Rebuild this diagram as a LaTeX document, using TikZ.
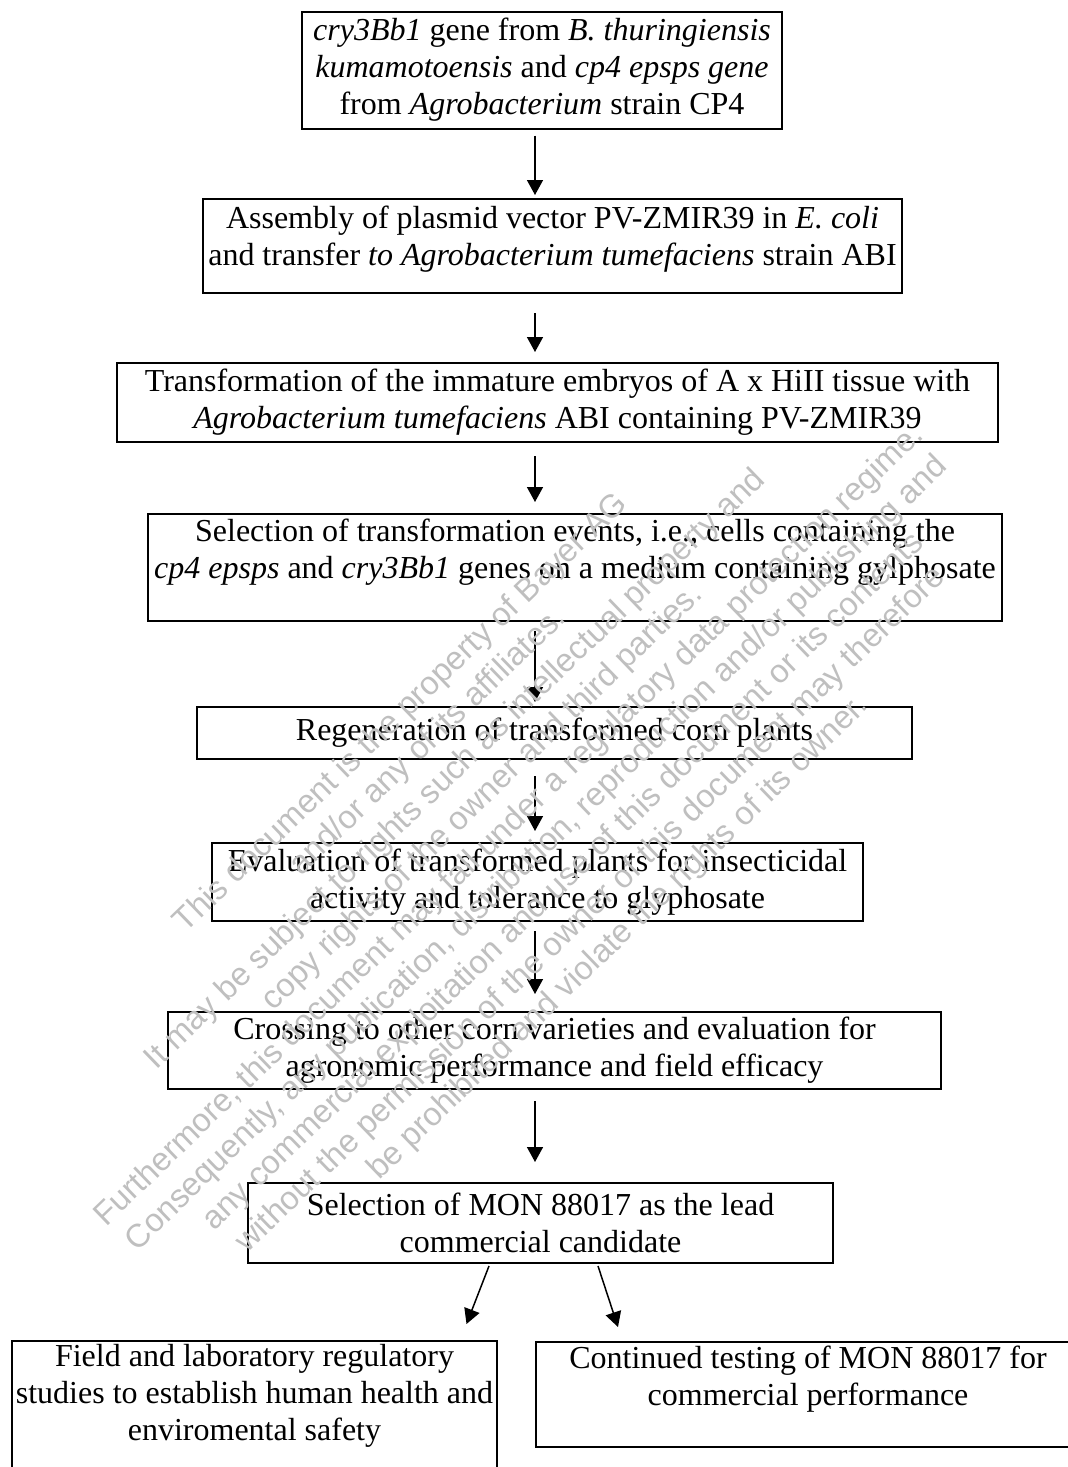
\documentclass[tikz,border=0pt]{standalone}
\usepackage{fontspec}
\setmainfont{Liberation Serif}
\newfontfamily\wmfont{Liberation Sans}
\usetikzlibrary{arrows.meta,calc}
\tikzset{
  % one stage of the process: plain frame, centred lines
  stage/.style={draw=black, line width=1pt, inner sep=0pt,
    align=center, font=\fontsize{16}{18.5}\selectfont},
  flow/.style={draw=black, line width=.75pt,
    -{Triangle[length=7.5pt,width=8pt]}},
  wmark/.style={font=\wmfont\fontsize{16.3}{19.5}\selectfont,
    text=black!25, align=center, rotate=44},
}
% \stage{name}{centre}{width}{height}{text}  (sizes in px of the page)
\newcommand{\stage}[5]{%
  \node[stage, minimum width=#3*.5pt, minimum height=#4*.5pt] (#1) at (#2) {#5};}
% \flow{from}{to}{gap at start}{gap at end}
\newcommand{\flow}[4]{%
  \draw[flow, shorten <=#3, shorten >=#4] (#1.south -| spine) -- (#2.north -| spine);}

\begin{document}
\begin{tikzpicture}[x=.5pt,y=-.5pt]
\useasboundingbox (0,0) rectangle (1068,1467);
\coordinate (spine) at (535,0);

% ----- main line -----
\stage{gene}{542,70}{480}{117}{\textit{cry3Bb1} gene from \textit{B. thuringiensis}\\
  \textit{kumamotoensis} and \textit{cp4 epsps gene}\\
  from \textit{Agrobacterium} strain CP4}
\stage{plasmid}{552.5,246}{699}{94}{Assembly of plasmid vector PV-ZMIR39 in \textit{E. coli}\\
  and transfer \textit{to Agrobacterium tumefaciens} strain ABI\\[-8pt]\mbox{}}
\stage{transform}{557.5,402.5}{881}{79}{Transformation of the immature embryos of A x HiII tissue with\\
  \textit{Agrobacterium tumefaciens} ABI containing PV-ZMIR39}
\stage{select}{575,567.5}{854}{107}{Selection of transformation events, i.e., cells containing the\\
  \textit{cp4 epsps} and \textit{cry3Bb1} genes on a medium containing gylphosate\\\mbox{}}
\stage{regen}{554.5,733}{715}{52}{Regeneration of transformed corn plants}
\stage{evaluate}{537.5,882}{651}{78}{Evaluation of transformed plants for insecticidal\\
  activity and tolerance to glyphosate}
\stage{cross}{554.5,1050.5}{773}{77}{Crossing to other corn varieties and evaluation for\\
  agronomic performance and field efficacy}
\stage{lead}{540.5,1223}{585}{80}{Selection of MON 88017 as the lead\\
  commercial candidate}

% ----- two branches -----
\stage{safety}{254.5,1410.5}{485}{139}{Field and laboratory regulatory\\
  studies to establish human health and\\
  enviromental safety\\\mbox{}}
\stage{testing}{808,1394.5}{544}{105}{Continued testing of MON 88017 for\\
  commercial performance\\\mbox{}}

% ----- arrows -----
\flow{gene}{plasmid}{3pt}{1.5pt}
\flow{plasmid}{transform}{9.5pt}{5pt}
\flow{transform}{select}{6.5pt}{5.5pt}
\flow{select}{regen}{4.5pt}{2pt}
\flow{regen}{evaluate}{8pt}{5.5pt}
\flow{evaluate}{cross}{4.5pt}{8.5pt}
\flow{cross}{lead}{5.5pt}{10pt}
\draw[flow] ([xshift=-25.75pt,yshift=-1pt]lead.south) -- ([xshift=106pt,yshift=8pt]safety.north);
\draw[flow] ([xshift=28.75pt,yshift=-1pt]lead.south) -- ([xshift=-95pt,yshift=7pt]testing.north);

% ----- watermark -----
\node[wmark] (wm) at (510,826) {This document is the property of Bayer AG\\
  and/or any of its affiliates.\\
  It may be subject to rights such as intellectual property and\\
  copy rights of the owner and third parties.\\
  Furthermore, this document may fall under a regulatory data protection regime.\\
  Consequently, any publication, distribution, reproduction and/or publishing and\\
  any commercial exploitation and use of this document or its contents\\
  without the permission of the owner of this document may therefore\\
  be prohibited and violate the rights of its owner.};

\end{tikzpicture}
\end{document}
